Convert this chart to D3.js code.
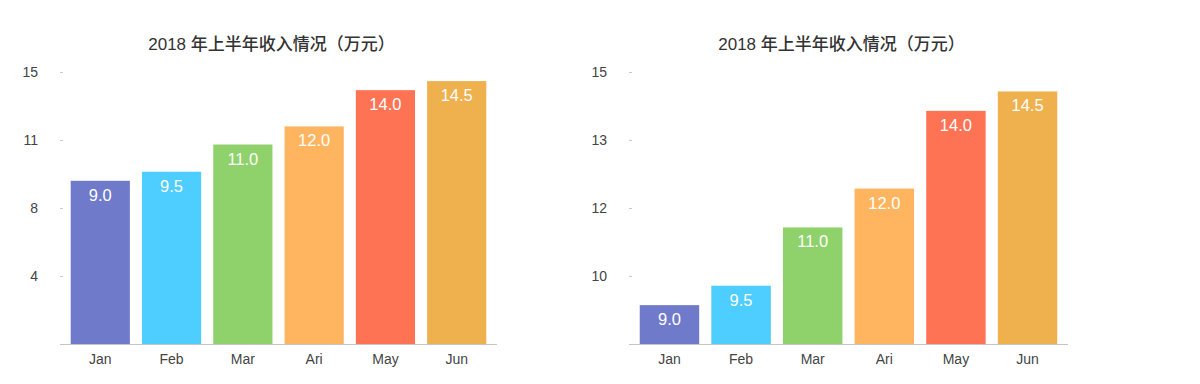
<!DOCTYPE html>
<html>
<head>
<meta charset="utf-8">
<script src="https://cdn.jsdelivr.net/npm/d3@7"></script>
<style>
  html, body { margin: 0; padding: 0; background: #fff; }
  svg { display: block; font-family: "Helvetica Neue", Arial, "Liberation Sans", "Noto Sans CJK SC", sans-serif; }
</style>
</head>
<body>
<svg id="chart" width="1200" height="384"></svg>
<script>
// data
const months = ['Jan', 'Feb', 'Mar', 'Ari', 'May', 'Jun'];
const income = [9.0, 9.5, 11.0, 12.0, 14.0, 14.5];
const barColors = ['#6f7acb', '#4ecdff', '#8fd16a', '#ffb55f', '#ff7355', '#efb04e'];
const title = '2018 年上半年收入情况（万元）';
const yMins = [0, 8];
const yMax = 15;

const svg = d3.select('#chart');

const panels = [
  { x0: 60, x1: 497, yMin: yMins[0] },
  { x0: 629, x1: 1068, yMin: yMins[1] }
];
const plotTop = 72, plotBottom = 344;

panels.forEach(p => {
  const g = svg.append('g');

  const x = d3.scaleBand()
    .domain(months)
    .range([p.x0, p.x1])
    .paddingInner(0.17)
    .paddingOuter(0.15);

  const y = d3.scaleLinear()
    .domain([p.yMin, yMax])
    .range([plotBottom, plotTop]);

  // 4 equal steps, bottom one not labelled
  const step = (yMax - p.yMin) / 4;
  const ticks = d3.range(1, 5).map(i => p.yMin + i * step);

  const yAxis = g.append('g')
    .attr('transform', `translate(${p.x0 + 3},0)`)
    .call(d3.axisLeft(y).tickValues(ticks).tickSize(3).tickPadding(22)
      .tickFormat(d => Math.round(d)));
  yAxis.select('.domain').remove();
  yAxis.selectAll('line').attr('stroke', '#c8c8c8');
  yAxis.selectAll('text').attr('fill', '#444').style('font-size', '14px');

  g.append('line')
    .attr('x1', p.x0).attr('x2', p.x1)
    .attr('y1', plotBottom + 0.5).attr('y2', plotBottom + 0.5)
    .attr('stroke', '#c4c4c4');

  const xAxis = g.append('g')
    .attr('transform', `translate(0,${plotBottom})`)
    .call(d3.axisBottom(x).tickSize(0).tickPadding(10));
  xAxis.select('.domain').remove();
  xAxis.selectAll('text').attr('fill', '#444').style('font-size', '14px');

  g.selectAll('rect.bar')
    .data(income)
    .join('rect')
    .attr('class', 'bar')
    .attr('x', (d, i) => x(months[i]))
    .attr('width', x.bandwidth())
    .attr('y', d => y(d))
    .attr('height', d => plotBottom - y(d))
    .attr('fill', (d, i) => barColors[i]);

  g.selectAll('text.val')
    .data(income)
    .join('text')
    .attr('class', 'val')
    .attr('x', (d, i) => x(months[i]) + x.bandwidth() / 2)
    .attr('y', d => y(d) + 20)
    .attr('text-anchor', 'middle')
    .attr('fill', '#fff')
    .style('font-size', '16.5px')
    .style('font-weight', '500')
    .text(d => d.toFixed(1));

  g.append('text')
    .attr('x', (p.x0 + p.x1) / 2 - 7)
    .attr('y', 50)
    .attr('text-anchor', 'middle')
    .attr('fill', '#333')
    .style('font-size', '17px')
    .style('font-weight', '500')
    .text(title);
});
</script>
</body>
</html>
